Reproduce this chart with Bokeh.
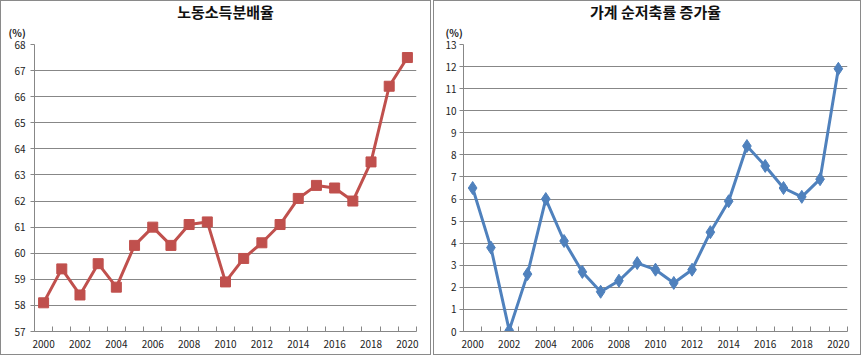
from bokeh.plotting import figure
from bokeh.models import Range1d, FixedTicker, Title
from bokeh.layouts import row
from bokeh.embed import file_html
from bokeh.resources import INLINE

years = list(range(2000, 2021))
labor_share = [58.1, 59.4, 58.4, 59.6, 58.7, 60.3, 61.0, 60.3, 61.1, 61.2, 58.9,
               59.8, 60.4, 61.1, 62.1, 62.6, 62.5, 62.0, 63.5, 66.4, 67.5]
saving_growth = [6.5, 3.8, 0.05, 2.6, 6.0, 4.1, 2.7, 1.8, 2.3, 3.1, 2.8,
                 2.2, 2.8, 4.5, 5.9, 8.4, 7.5, 6.5, 6.1, 6.9, 11.9]
title_left = "노동소득분배율"
title_right = "가계 순저축률 증가율"
unit_label = "(%)"
x_tick_labels = list(range(2000, 2021, 2))
left_y_ticks = list(range(57, 69))
right_y_ticks = list(range(0, 14))

FONT = "Noto Sans CJK KR"
GRID = "#878787"


def make_chart(title, ys, yticks, color, marker, msize, width, bl, br, bb,
               standoff, unit_dx, title_dx):
    ymin, ymax = yticks[0], yticks[-1]
    p = figure(width=width, height=355, output_backend="svg", toolbar_location=None,
               x_range=Range1d(years[0] - 0.5, years[-1] + 0.5),
               y_range=Range1d(ymin, ymax),
               min_border_left=bl, min_border_right=br,
               min_border_top=43, min_border_bottom=bb)
    p.styles = {"border": "1px solid #8a8a8a"}
    p.outline_line_color = None
    p.background_fill_color = "white"
    p.border_fill_color = "white"

    p.xgrid.visible = False
    p.ygrid.ticker = FixedTicker(ticks=yticks)
    p.ygrid.grid_line_color = GRID
    p.ygrid.grid_line_width = 1

    xa = p.xaxis[0]
    xa.ticker = FixedTicker(ticks=x_tick_labels,
                            minor_ticks=[y - 0.5 for y in years] + [years[-1] + 0.5])
    xa.major_tick_in = 0
    xa.major_tick_out = 0
    xa.minor_tick_in = 5
    xa.minor_tick_out = 0
    xa.minor_tick_line_color = GRID
    xa.axis_line_color = GRID
    xa.major_label_standoff = 8
    xa.major_label_text_font = FONT
    xa.major_label_text_font_size = "10px"
    xa.major_label_text_color = "#222222"

    ya = p.yaxis[0]
    ya.ticker = FixedTicker(ticks=yticks)
    ya.major_tick_in = 0
    ya.major_tick_out = 4
    ya.minor_tick_line_color = None
    ya.major_tick_line_color = GRID
    ya.axis_line_color = GRID
    ya.major_label_standoff = standoff
    ya.major_label_text_font = FONT
    ya.major_label_text_font_size = "10px"
    ya.major_label_text_color = "#222222"

    p.line(years, ys, line_color=color, line_width=3)
    p.scatter(years, ys, marker=marker, size=msize, fill_color=color, line_color=color)

    p.add_layout(Title(text=unit_label, align="left", offset=unit_dx, standoff=9,
                       text_font=FONT, text_font_size="10px", text_font_style="bold",
                       text_color="#222222"), "above")
    p.add_layout(Title(text=title, align="center", offset=title_dx, standoff=-7,
                       text_font=FONT, text_font_size="15px", text_font_style="bold",
                       text_color="#111111"), "above")
    return p


p1 = make_chart(title_left, labor_share, left_y_ticks, "#C0504D", "square", 10,
                431, 33, 16, 23, 5, -26, -13)
p2 = make_chart(title_right, saving_growth, right_y_ticks, "#4F81BD", "diamond", 13,
                428, 29, 15, 25, 3, -18, 2)

layout = row(p1, p2, spacing=2)
open("out.html", "w").write(file_html(layout, INLINE))
